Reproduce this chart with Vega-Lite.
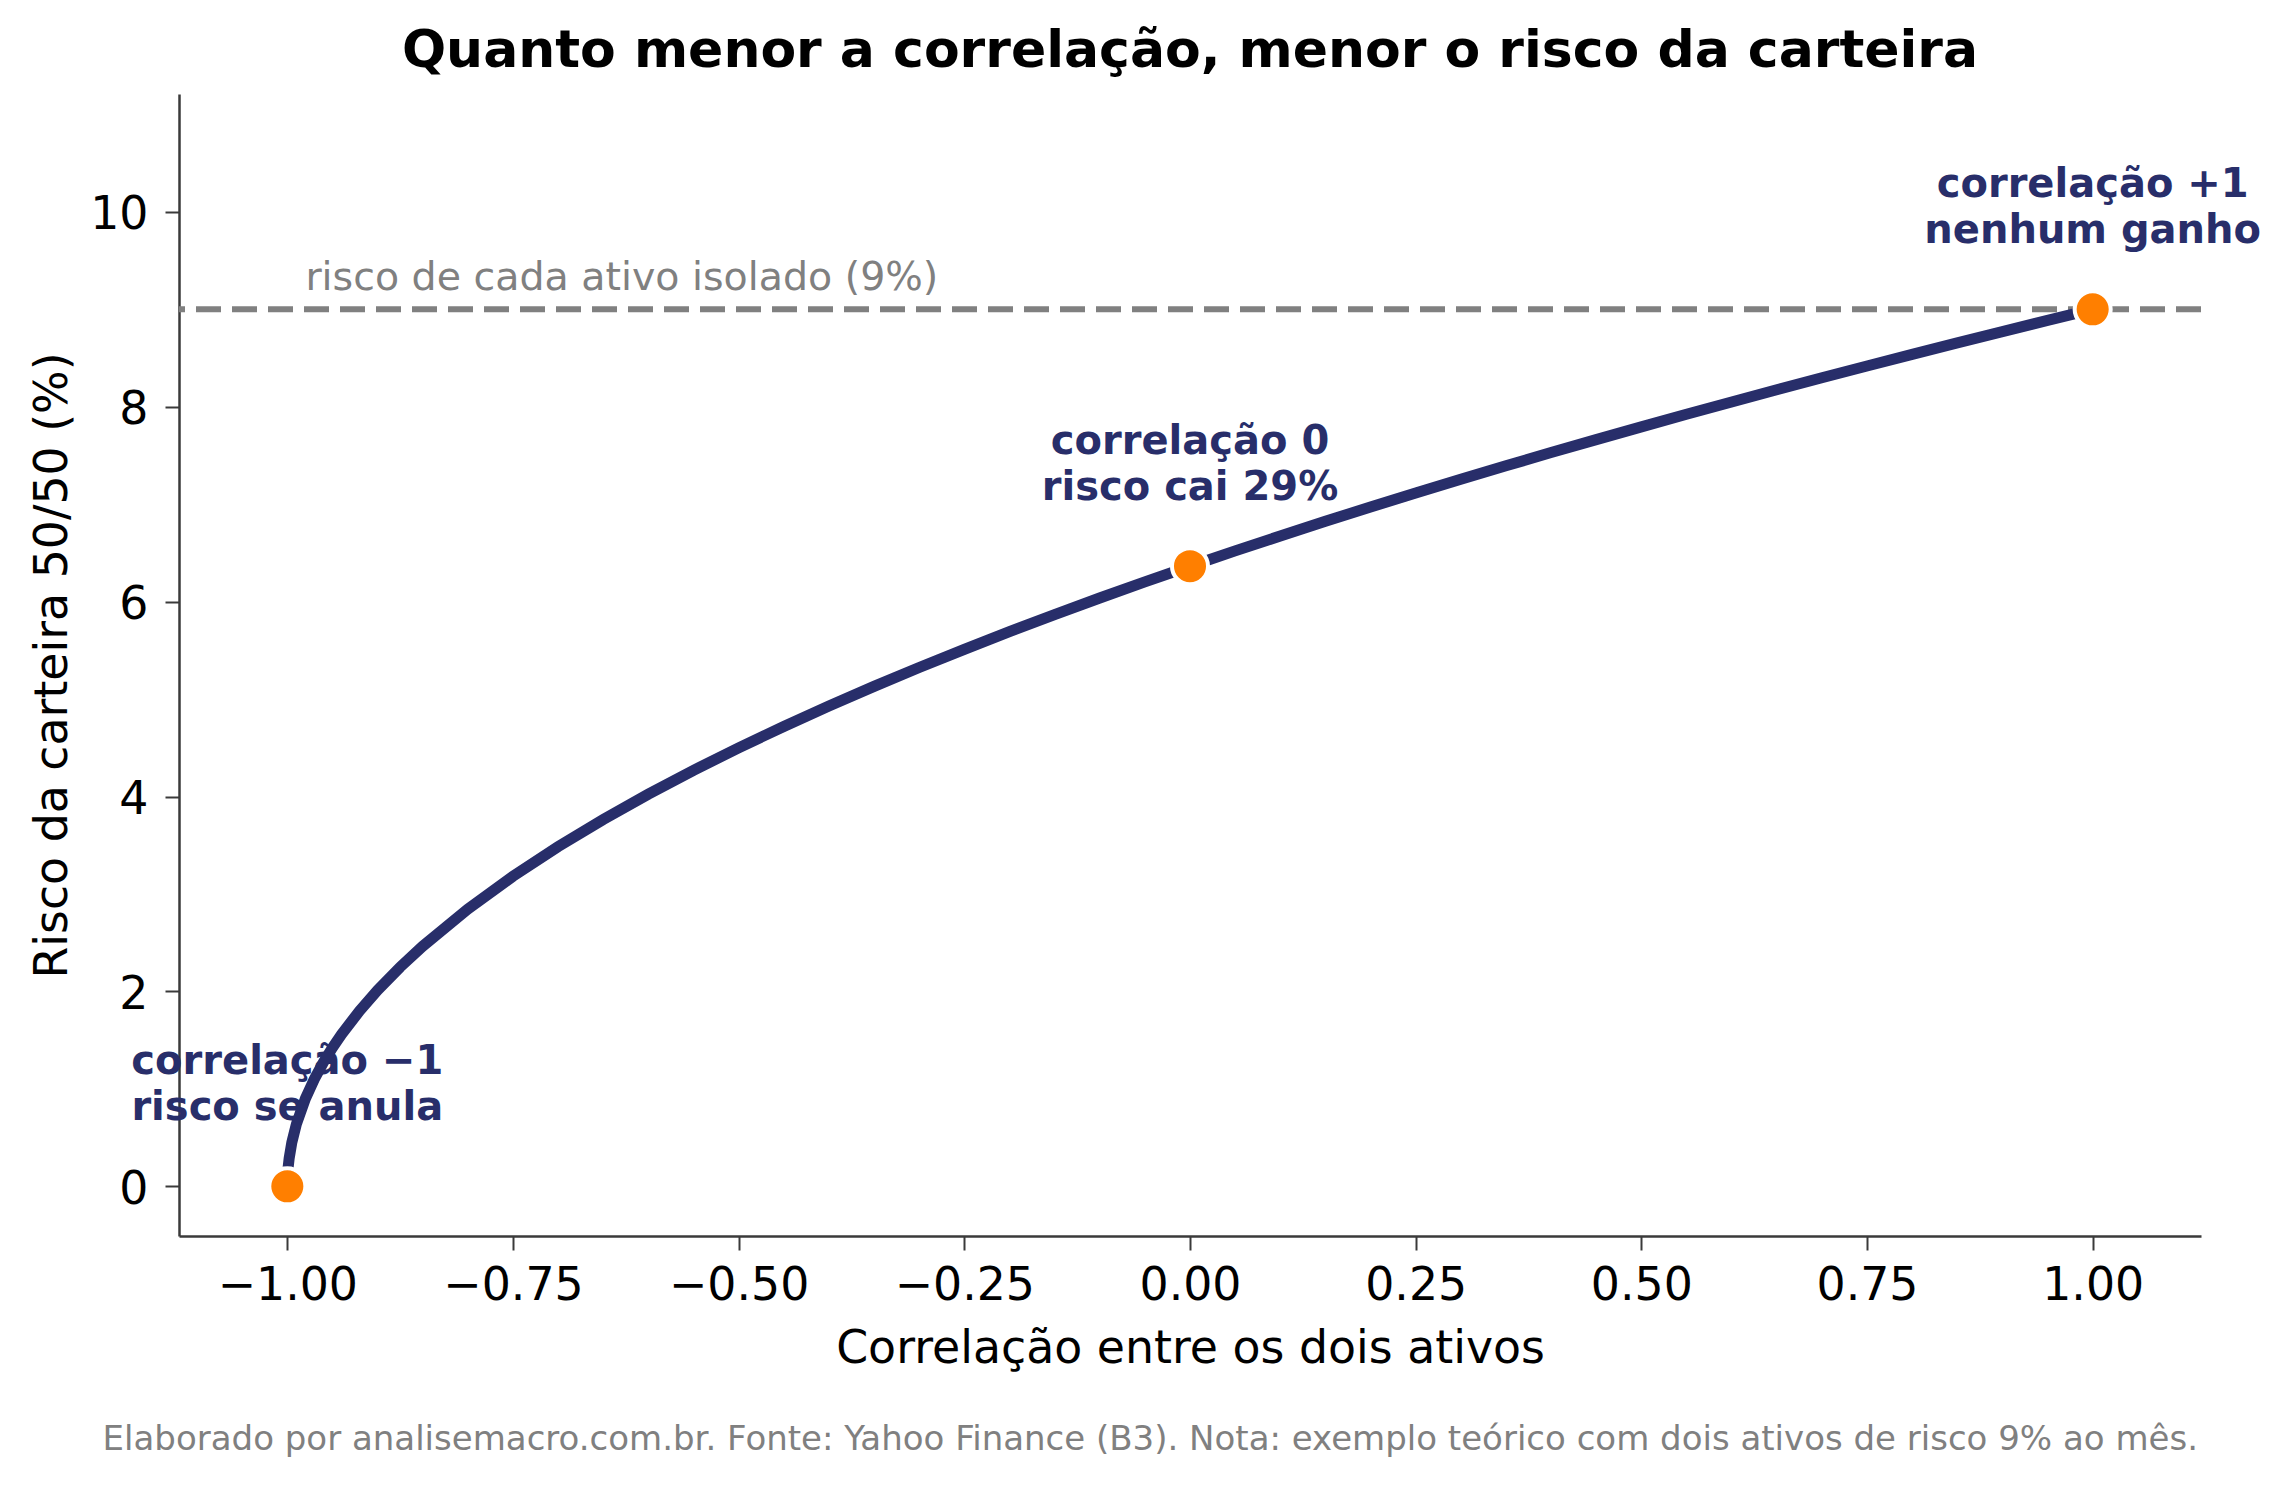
{
  "$schema": "https://vega.github.io/schema/vega-lite/v6.json",
  "autosize": {"type": "none"},
  "padding": {"left": 179, "top": 94, "right": 88, "bottom": 250},
  "width": 2022,
  "height": 1142,
  "background": "white",
  "config": {
    "font": "DejaVu Sans",
    "view": {"stroke": null},
    "axis": {"grid": false, "domainColor": "#3a3a3a", "domainWidth": 2.5, "tickColor": "#3a3a3a", "tickWidth": 2, "tickSize": 14, "labelFontSize": 45.8, "labelColor": "black", "titleFontSize": 45.8, "titleFontWeight": "normal", "titleColor": "black", "labelFont": "DejaVu Sans", "titleFont": "DejaVu Sans"}
  },
  "title": {
    "text": "Quanto menor a correlação, menor o risco da carteira",
    "fontSize": 52,
    "fontWeight": "bold",
    "color": "black",
    "anchor": "middle",
    "frame": "group",
    "baseline": "alphabetic",
    "offset": -25
  },
  "datasets": {
    "curve": [
      {"rho": -1.0, "risk": 0.0},
      {"rho": -0.999, "risk": 0.2012},
      {"rho": -0.998, "risk": 0.2846},
      {"rho": -0.995, "risk": 0.45},
      {"rho": -0.99, "risk": 0.6364},
      {"rho": -0.98, "risk": 0.9},
      {"rho": -0.97, "risk": 1.1023},
      {"rho": -0.96, "risk": 1.2728},
      {"rho": -0.95, "risk": 1.423},
      {"rho": -0.94, "risk": 1.5588},
      {"rho": -0.92, "risk": 1.8},
      {"rho": -0.9, "risk": 2.0125},
      {"rho": -0.875, "risk": 2.25},
      {"rho": -0.85, "risk": 2.4648},
      {"rho": -0.8, "risk": 2.846},
      {"rho": -0.75, "risk": 3.182},
      {"rho": -0.7, "risk": 3.4857},
      {"rho": -0.65, "risk": 3.765},
      {"rho": -0.6, "risk": 4.0249},
      {"rho": -0.55, "risk": 4.2691},
      {"rho": -0.5, "risk": 4.5},
      {"rho": -0.45, "risk": 4.7196},
      {"rho": -0.4, "risk": 4.9295},
      {"rho": -0.35, "risk": 5.1308},
      {"rho": -0.3, "risk": 5.3245},
      {"rho": -0.25, "risk": 5.5113},
      {"rho": -0.2, "risk": 5.6921},
      {"rho": -0.15, "risk": 5.8673},
      {"rho": -0.1, "risk": 6.0374},
      {"rho": -0.05, "risk": 6.2028},
      {"rho": 0.0, "risk": 6.364},
      {"rho": 0.05, "risk": 6.5211},
      {"rho": 0.1, "risk": 6.6746},
      {"rho": 0.15, "risk": 6.8246},
      {"rho": 0.2, "risk": 6.9714},
      {"rho": 0.25, "risk": 7.1151},
      {"rho": 0.3, "risk": 7.256},
      {"rho": 0.35, "risk": 7.3943},
      {"rho": 0.4, "risk": 7.5299},
      {"rho": 0.45, "risk": 7.6632},
      {"rho": 0.5, "risk": 7.7942},
      {"rho": 0.55, "risk": 7.9231},
      {"rho": 0.6, "risk": 8.0498},
      {"rho": 0.65, "risk": 8.1747},
      {"rho": 0.7, "risk": 8.2976},
      {"rho": 0.75, "risk": 8.4187},
      {"rho": 0.8, "risk": 8.5381},
      {"rho": 0.85, "risk": 8.6559},
      {"rho": 0.9, "risk": 8.7721},
      {"rho": 0.95, "risk": 8.8868},
      {"rho": 1.0, "risk": 9.0}
    ],
    "points": [
      {"rho": -1.0, "risk": 0.0, "label": "correlação −1\nrisco se anula"},
      {"rho": 0.0, "risk": 6.364, "label": "correlação 0\nrisco cai 29%"},
      {"rho": 1.0, "risk": 9.0, "label": "correlação +1\nnenhum ganho"}
    ],
    "ref": [
      {"risk": 9.0, "rho": -0.98, "label": "risco de cada ativo isolado (9%)"}
    ],
    "note": [
      {"rho": -0.044, "risk": -2.71, "label": "Elaborado por analisemacro.com.br. Fonte: Yahoo Finance (B3). Nota: exemplo teórico com dois ativos de risco 9% ao mês."}
    ]
  },
  "encoding": {
    "x": {
      "type": "quantitative",
      "scale": {"domain": [-1.12, 1.12], "nice": false, "zero": false},
      "axis": {"title": "Correlação entre os dois ativos", "values": [-1, -0.75, -0.5, -0.25, 0, 0.25, 0.5, 0.75, 1], "format": ".2f", "labelPadding": 13, "titleBaseline": "alphabetic", "titleY": 126}
    },
    "y": {
      "type": "quantitative",
      "scale": {"domain": [-0.51, 11.21], "nice": false, "zero": false},
      "axis": {"title": "Risco da carteira 50/50 (%)", "values": [0, 2, 4, 6, 8, 10], "labelPadding": 17, "labelOffset": 3, "titleBaseline": "alphabetic", "titleX": -113}
    }
  },
  "layer": [
    {
      "data": {"name": "ref"},
      "mark": {"type": "rule", "color": "#808080", "strokeWidth": 6, "strokeDash": [25, 11]},
      "encoding": {"y": {"field": "risk"}, "x": null}
    },
    {
      "data": {"name": "ref"},
      "mark": {"type": "text", "align": "left", "baseline": "alphabetic", "dy": -19, "fontSize": 39.5, "color": "#808080"},
      "encoding": {"x": {"field": "rho"}, "y": {"field": "risk"}, "text": {"field": "label"}}
    },
    {
      "data": {"name": "points"},
      "mark": {"type": "text", "align": "center", "baseline": "alphabetic", "dy": -112, "fontSize": 40, "fontWeight": "bold", "color": "#282e6a", "lineBreak": "\n", "lineHeight": 46},
      "encoding": {"x": {"field": "rho"}, "y": {"field": "risk"}, "text": {"field": "label"}}
    },
    {
      "data": {"name": "curve"},
      "mark": {"type": "line", "color": "#282e6a", "strokeWidth": 11},
      "encoding": {"x": {"field": "rho"}, "y": {"field": "risk"}}
    },
    {
      "data": {"name": "points"},
      "mark": {"type": "point", "filled": true, "shape": "circle", "size": 1300, "color": "#ff7f00", "opacity": 1, "stroke": "white", "strokeWidth": 4},
      "encoding": {"x": {"field": "rho"}, "y": {"field": "risk"}}
    },
    {
      "data": {"name": "note"},
      "mark": {"type": "text", "align": "center", "baseline": "alphabetic", "fontSize": 34, "color": "#808080", "clip": false},
      "encoding": {"x": {"field": "rho"}, "y": {"field": "risk"}, "text": {"field": "label"}}
    }
  ]
}
